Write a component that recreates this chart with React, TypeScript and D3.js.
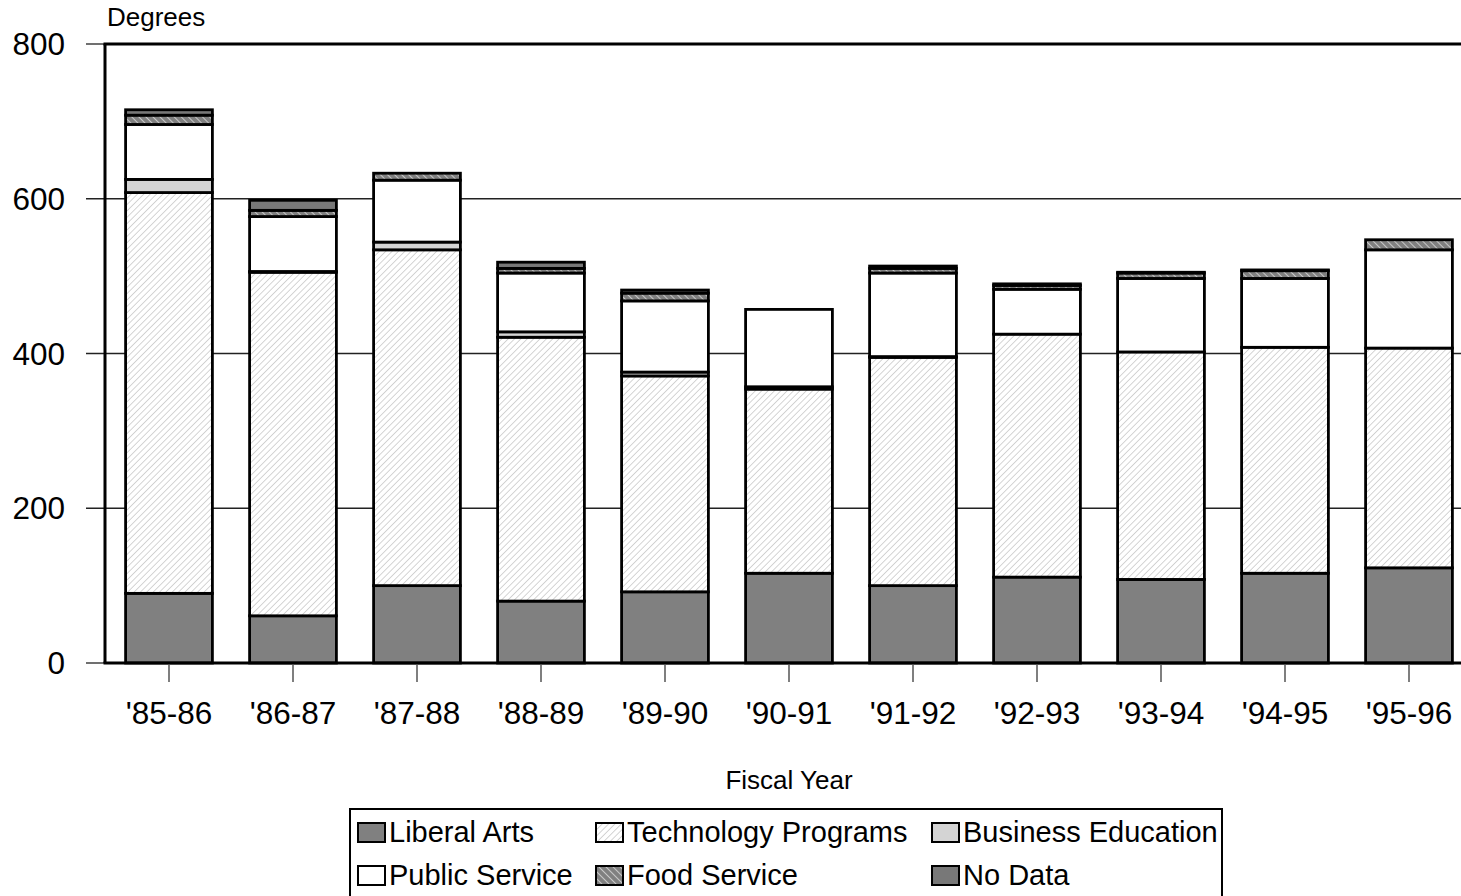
import React from "react"
import * as d3 from "d3"

const years = ["'85-86", "'86-87", "'87-88", "'88-89", "'89-90", "'90-91", "'91-92", "'92-93", "'93-94", "'94-95", "'95-96"]
const liberalArts = [90, 61, 100, 80, 92, 116, 100, 111, 108, 116, 123]
const technology = [518, 444, 434, 341, 279, 238, 295, 314, 294, 292, 284]
const business = [17, 1, 10, 7, 5, 3, 1, 0, 0, 0, 0]
const publicService = [71, 71, 80, 76, 92, 100, 108, 58, 95, 89, 127]
const foodService = [12, 8, 9, 6, 10, 0, 6, 5, 7, 10, 13]
const noData = [7, 13, 0, 8, 4, 0, 3, 2, 1, 1, 0]
const yTicks = [0, 200, 400, 600, 800]

const seriesNames = ["Liberal Arts", "Technology Programs", "Business Education", "Public Service", "Food Service", "No Data"]
const seriesFills = ["#808080", "url(#techHatch)", "#d4d4d4", "#ffffff", "url(#foodHatch)", "#787878"]

const FONT = "'Liberation Sans', Arial, sans-serif"

export default function App() {
  const width = 1461
  const height = 896
  const plot = { left: 105, top: 44, bottom: 663 }

  const rows = years.map((y, i) => ({
    year: y,
    "Liberal Arts": liberalArts[i],
    "Technology Programs": technology[i],
    "Business Education": business[i],
    "Public Service": publicService[i],
    "Food Service": foodService[i],
    "No Data": noData[i],
  }))

  const stacked = d3.stack<any>().keys(seriesNames)(rows)

  const x = d3.scaleBand().domain(years).range([107, 1471]).paddingInner(0.3).paddingOuter(0.15)
  const y = d3.scaleLinear().domain([0, 800]).range([plot.bottom, plot.top])

  // legend layout
  const legendCols = [358, 596, 932]
  const legendRows = [832, 875]

  return (
    <svg width={width} height={height} style={{ position: "absolute", left: 0, top: 0, display: "block" }} fontFamily={FONT}>
      <defs>
        <pattern id="techHatch" patternUnits="userSpaceOnUse" width="4.5" height="4.5" patternTransform="rotate(45)">
          <rect width="4.5" height="4.5" fill="#ffffff" />
          <line x1="0" y1="0" x2="0" y2="4.5" stroke="#b8b8b8" strokeWidth="1.2" />
        </pattern>
        <pattern id="foodHatch" patternUnits="userSpaceOnUse" width="5" height="5" patternTransform="rotate(-45)">
          <rect width="5" height="5" fill="#808080" />
          <line x1="0" y1="0" x2="0" y2="5" stroke="#e6e6e6" strokeWidth="1.4" />
        </pattern>
      </defs>

      {/* gridlines + y ticks */}
      {yTicks.map(t => (
        <g key={t}>
          <line x1={86} x2={t === 0 || t === 800 ? plot.left : width} y1={y(t)} y2={y(t)} stroke="#222" strokeWidth={1.3} />
          <text x={65} y={y(t)} textAnchor="end" dominantBaseline="central" fontSize={31.5} fill="#000">{t}</text>
        </g>
      ))}

      {/* bars */}
      {stacked.map((s, si) => (
        <g key={s.key}>
          {s.map((d, i) => {
            if (d[1] - d[0] <= 0) return null
            return (
              <rect
                key={i}
                x={x(years[i])}
                y={y(d[1])}
                width={x.bandwidth()}
                height={y(d[0]) - y(d[1])}
                fill={seriesFills[si]}
                stroke="#000"
                strokeWidth={2.8}
              />
            )
          })}
        </g>
      ))}

      {/* frame */}
      <line x1={plot.left} x2={plot.left} y1={plot.top} y2={plot.bottom} stroke="#000" strokeWidth={3} />
      <line x1={plot.left - 1.5} x2={width} y1={plot.top} y2={plot.top} stroke="#000" strokeWidth={3} />
      <line x1={plot.left - 1.5} x2={width} y1={plot.bottom} y2={plot.bottom} stroke="#000" strokeWidth={3} />

      {/* x ticks and labels */}
      {years.map(yr => {
        const cx = (x(yr) || 0) + x.bandwidth() / 2
        return (
          <g key={yr}>
            <line x1={cx} x2={cx} y1={plot.bottom + 1.5} y2={682} stroke="#555" strokeWidth={1.5} />
            <text x={cx} y={724} textAnchor="middle" fontSize={31.5} fill="#000">{yr}</text>
          </g>
        )
      })}

      <text x={107} y={26} fontSize={26} fill="#000">Degrees</text>
      <text x={789} y={789} textAnchor="middle" fontSize={26} fill="#000">Fiscal Year</text>

      {/* legend */}
      <rect x={350} y={809} width={872} height={100} fill="#fff" stroke="#000" strokeWidth={2} />
      {seriesNames.map((name, i) => {
        const col = i % 3
        const row = Math.floor(i / 3)
        const lx = legendCols[col]
        const ly = legendRows[row]
        return (
          <g key={name}>
            <rect x={lx} y={ly - 9} width={27} height={19} fill={seriesFills[i]} stroke="#000" strokeWidth={2} />
            <text x={lx + 31} y={ly} dominantBaseline="central" fontSize={29} fill="#000">{name}</text>
          </g>
        )
      })}
    </svg>
  )
}
